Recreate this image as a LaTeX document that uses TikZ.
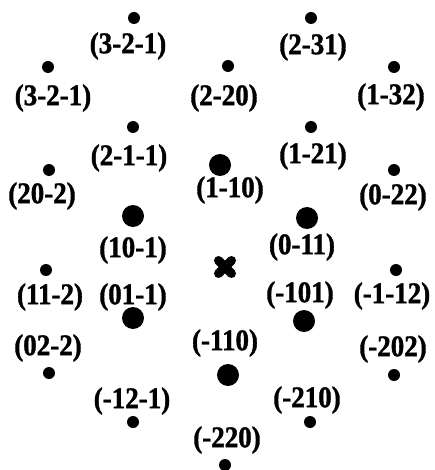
\documentclass[tikz,border=0pt]{standalone}
\usepackage{fontspec}
\setmainfont{Liberation Serif}
\newfontfamily\millerfont[FakeStretch=0.9,FakeBold=1.2]{Liberation Serif Bold}

\begin{document}
\begin{tikzpicture}[x=1pt,y=-1pt]
\tikzset{spot/.style={circle,fill,inner sep=0pt,minimum size=12pt},
  bigspot/.style={spot,minimum size=22pt},
  miller/.style={font=\fontsize{30}{32}\millerfont,inner sep=0pt}}
\useasboundingbox (0,0) rectangle (434,470);
% weak spots
\foreach \n/\x/\y/\lx/\ly/\t in {a/134/18/128/46/3-2-1, b/311/18/313/47/2-31,
  c/48/67/53/98/3-2-1, d/228/66/224/98/2-20, e/394/67/391/97/1-32,
  f/133/127/129/158/2-1-1, g/311/127/313/156/1-21,
  h/49/170/42/196/20-2, i/394/170/393/197/0-22,
  j/46/270/50/297/11-2, k/396/270/392/296/-1-12,
  l/49/373/48/348/02-2, m/394/375/393/349/-202,
  n/133/422/132/401/-12-1, o/310/422/307/400/-210, p/225/465/227/440/-220}
  {\node[spot] (s\n) at (\x,\y) {};
   \node[miller] (l\n) at (\lx,\ly) {(\t)};}
% strong spots
\foreach \n/\x/\y/\lx/\ly/\t in {A/220/165/230/190/1-10, B/133/216/133/250/10-1,
  C/307/218/302/247/0-11, D/133/318/133/297/01-1,
  E/304/321/300/295/-101, F/228/375/225/343/-110}
  {\node[bigspot] (s\n) at (\x,\y) {};
   \node[miller] (l\n) at (\lx,\ly) {(\t)};}
% centre
\coordinate (o) at (225,267);
\draw[line width=9pt,line cap=round] ([shift={(-6.5,-6.5)}]o) -- ([shift={(6.5,6.5)}]o)
  ([shift={(-6.5,6.5)}]o) -- ([shift={(6.5,-6.5)}]o);
\end{tikzpicture}
\end{document}
